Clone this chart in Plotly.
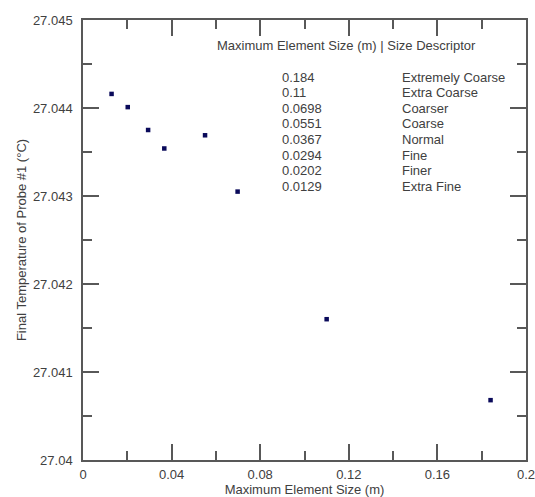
import plotly.graph_objects as go

# Data
element_size = [0.0129, 0.0202, 0.0294, 0.0367, 0.0551, 0.0698, 0.11, 0.184]
final_temp = [27.04416, 27.04401, 27.04375, 27.04354, 27.04369, 27.04305, 27.04160, 27.04068]

size_col = ["0.184", "0.11", "0.0698", "0.0551", "0.0367", "0.0294", "0.0202", "0.0129"]
desc_col = ["Extremely Coarse", "Extra Coarse", "Coarser", "Coarse", "Normal", "Fine", "Finer", "Extra Fine"]

x_tickvals = [0, 0.04, 0.08, 0.12, 0.16, 0.2]
x_ticktext = ["0", "0.04", "0.08", "0.12", "0.16", "0.2"]
y_tickvals = [27.040, 27.041, 27.042, 27.043, 27.044, 27.045]
y_ticktext = ["27.04", "27.041", "27.042", "27.043", "27.044", "27.045"]

FONT = "Liberation Sans, Arial, sans-serif"
TXT = "#404040"
AX = "#585858"

W, H = 535, 497
L, R, T, B = 83, 9, 20, 37
XMIN, XMAX = 0.0, 0.2
YMIN, YMAX = 27.040, 27.045


def px_to_x(px):
    return XMIN + (XMAX - XMIN) * (px - L) / (W - L - R)


def py_to_y(py):
    return YMAX - (YMAX - YMIN) * (py - T) / (H - T - B)


fig = go.Figure()
fig.add_trace(go.Scatter(
    x=element_size, y=final_temp, mode="markers",
    marker=dict(symbol="square", size=4.5, color="#0a0a5a", line=dict(width=0)),
    showlegend=False, cliponaxis=False,
))

axis_common = dict(
    showgrid=False, zeroline=False, showline=True, linecolor=AX, linewidth=1.5,
    mirror="ticks", ticks="inside", ticklen=16, tickwidth=1.5, tickcolor=AX,
    tickfont=dict(family=FONT, size=13, color=TXT), automargin=False,
    ticklabeloverflow="allow",
)

fig.update_xaxes(
    range=[XMIN, XMAX], tickvals=x_tickvals, ticktext=x_ticktext,
    minor=dict(ticks="inside", ticklen=9, dtick=0.02, tick0=0, tickcolor=AX, tickwidth=1.5, showgrid=False),
    title=dict(text="Maximum Element Size (m)", font=dict(family=FONT, size=13, color=TXT), standoff=0),
    ticklabelstandoff=2,
    **axis_common,
)
fig.update_yaxes(
    range=[YMIN, YMAX], tickvals=y_tickvals, ticktext=y_ticktext,
    minor=dict(ticks="inside", ticklen=9, dtick=0.0005, tick0=27.04, tickcolor=AX, tickwidth=1.5, showgrid=False),
    title=dict(text="Final Temperature of Probe #1 (°C)", font=dict(family=FONT, size=13, color=TXT), standoff=3),
    ticklabelstandoff=6,
    **axis_common,
)

# header of the table
fig.add_annotation(
    xref="x", yref="y", x=px_to_x(346), y=py_to_y(45),
    text="Maximum Element Size (m) | Size Descriptor", showarrow=False,
    xanchor="center", yanchor="middle", font=dict(family=FONT, size=13, color=TXT),
)
# table rows
for i, (s, d) in enumerate(zip(size_col, desc_col)):
    yy = py_to_y(77 + i * 15.6)
    fig.add_annotation(
        xref="x", yref="y", x=px_to_x(280), y=yy, text=s, showarrow=False,
        xanchor="left", yanchor="middle", font=dict(family=FONT, size=13, color=TXT),
    )
    fig.add_annotation(
        xref="x", yref="y", x=px_to_x(400), y=yy, text=d, showarrow=False,
        xanchor="left", yanchor="middle", font=dict(family=FONT, size=13, color=TXT),
    )

fig.update_layout(
    width=W, height=H,
    margin=dict(l=L, r=R, t=T, b=B),
    paper_bgcolor="white", plot_bgcolor="white",
    font=dict(family=FONT, color=TXT),
)

fig.write_html(
    "out.html",
    config={"displayModeBar": False},
    post_script="document.body.style.margin='0';document.body.style.padding='0';",
)
